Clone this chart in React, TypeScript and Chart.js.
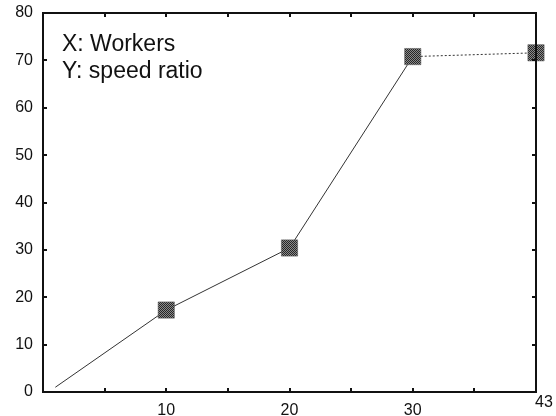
import React, { useEffect, useRef } from "react";
import { Chart, registerables } from "chart.js";

Chart.register(...registerables);

const workers = [1, 10, 20, 30, 40];
const speedRatio = [1, 17.3, 30.4, 70.8, 71.6];
const xTickLabels: Record<number, string> = { 10: "10", 20: "20", 30: "30" };
const lastXLabel = "43";
const yTickValues = [0, 10, 20, 30, 40, 50, 60, 70, 80];
const legendLines = ["X: Workers", "Y: speed ratio"];

const FONT = "'Liberation Sans', Arial, Helvetica, sans-serif";

function makePattern(): any {
  const c = document.createElement("canvas");
  c.width = 2;
  c.height = 2;
  const g = c.getContext("2d")!;
  g.fillStyle = "#8a8a8a";
  g.fillRect(0, 0, 2, 2);
  g.fillStyle = "#262626";
  g.fillRect(0, 0, 1, 1);
  g.fillRect(1, 1, 1, 1);
  const main = document.createElement("canvas").getContext("2d")!;
  return main.createPattern(c, "repeat");
}

const framePlugin = {
  id: "frame",
  afterDatasetsDraw(chart: any) {
    const { ctx, chartArea: a, scales } = chart;
    const xs = scales.x;
    const ys = scales.y;
    const L = Math.round(a.left), R = Math.round(a.right), T = Math.round(a.top), B = Math.round(a.bottom);
    ctx.save();
    ctx.strokeStyle = "#111";
    ctx.lineWidth = 2;
    ctx.strokeRect(L, T, R - L, B - T);
    const tl = 4;
    for (let v = 5; v < 40; v += 5) {
      const px = Math.round(xs.getPixelForValue(v));
      ctx.beginPath();
      ctx.moveTo(px, B);
      ctx.lineTo(px, B - tl);
      ctx.moveTo(px, T);
      ctx.lineTo(px, T + tl);
      ctx.stroke();
    }
    for (let v = 10; v < 80; v += 10) {
      const py = Math.round(ys.getPixelForValue(v));
      ctx.beginPath();
      ctx.moveTo(L, py);
      ctx.lineTo(L + tl, py);
      ctx.moveTo(R, py);
      ctx.lineTo(R - tl, py);
      ctx.stroke();
    }
    ctx.fillStyle = "#111";
    ctx.font = `16px ${FONT}`;
    ctx.textAlign = "center";
    ctx.textBaseline = "middle";
    ctx.fillText(lastXLabel, xs.getPixelForValue(40) + 8, B + 11);
    ctx.font = `23px ${FONT}`;
    ctx.textAlign = "left";
    ctx.textBaseline = "alphabetic";
    legendLines.forEach((t, i) => ctx.fillText(t, L + 19, T + 38 + i * 27));
    ctx.restore();
  },
};

export default function App() {
  const ref = useRef<HTMLCanvasElement>(null);
  useEffect(() => {
    if (!ref.current) return;
    const pattern = makePattern();
    const chart = new Chart(ref.current, {
      type: "line",
      data: {
        datasets: [
          {
            data: workers.map((x, i) => ({ x, y: speedRatio[i] })),
            borderColor: "#333",
            borderWidth: 1,
            pointStyle: "rect",
            pointRadius: (c: any) => (c.dataIndex === 0 ? 0 : 11.5),
            pointBackgroundColor: pattern,
            pointBorderColor: "#555",
            pointBorderWidth: 0.5,
            tension: 0,
            clip: false,
            segment: {
              borderDash: (c: any) => (c.p1DataIndex === 4 ? [2, 2] : undefined),
            },
          },
        ],
      },
      options: {
        responsive: false,
        animation: false,
        layout: { padding: { top: 13, right: 20, left: 0, bottom: 0 } },
        plugins: { legend: { display: false }, tooltip: { enabled: false } },
        scales: {
          x: {
            type: "linear",
            min: 0,
            max: 40,
            grid: { display: false, drawTicks: false },
            border: { display: false },
            afterBuildTicks: (s: any) => {
              s.ticks = [10, 20, 30].map((v) => ({ value: v }));
            },
            afterFit: (s: any) => {
              s.height = 24;
              s.paddingLeft = 0;
              s.paddingRight = 0;
            },
            ticks: {
              padding: 9,
              maxRotation: 0,
              autoSkip: false,
              color: "#111",
              font: { family: FONT, size: 16 },
              callback: (v: any) => xTickLabels[v] ?? "",
            },
          },
          y: {
            min: 0,
            max: 80,
            grid: { display: false, drawTicks: false },
            border: { display: false },
            afterBuildTicks: (s: any) => {
              s.ticks = yTickValues.map((v) => ({ value: v }));
            },
            afterFit: (s: any) => {
              s.width = 43;
              s.paddingTop = 0;
              s.paddingBottom = 0;
            },
            ticks: {
              padding: 10,
              autoSkip: false,
              color: "#111",
              font: { family: FONT, size: 16 },
            },
          },
        },
      },
      plugins: [framePlugin],
    });
    return () => chart.destroy();
  }, []);
  return (
    <div style={{ position: "fixed", left: 0, top: 0, width: 556, height: 416, background: "#fff" }}>
      <canvas ref={ref} width={556} height={416} style={{ width: 556, height: 416 }} />
    </div>
  );
}
